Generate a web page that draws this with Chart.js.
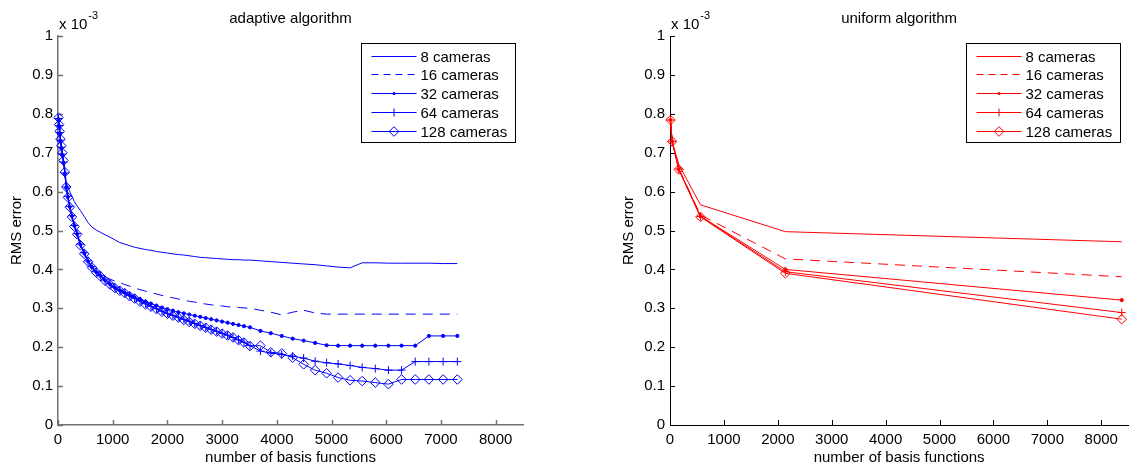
<!DOCTYPE html>
<html><head><meta charset="utf-8">
<script src="https://cdn.jsdelivr.net/npm/chart.js@4.4.1/dist/chart.umd.min.js"></script>
<style>
html,body{margin:0;padding:0;background:#fff;}
#wrap{position:relative;width:1134px;height:467px;overflow:hidden;background:#fff;}
canvas{position:absolute;top:0;}
#c1{left:0;}
#c2{left:567px;}
</style></head><body>
<div id="wrap"><canvas id="c1" width="567" height="467"></canvas><canvas id="c2" width="567" height="467"></canvas></div>
<script>
const FONT = "'Liberation Sans', Arial, Helvetica, sans-serif";

// ---- data (y values in units of 1e-3) ----
const seriesLabels = ['8 cameras', '16 cameras', '32 cameras', '64 cameras', '128 cameras'];
const xTickValues = [0, 1000, 2000, 3000, 4000, 5000, 6000, 7000, 8000];
const xTickLabels = ['0', '1000', '2000', '3000', '4000', '5000', '6000', '7000', '8000'];
const yTickValues = [0, 0.1, 0.2, 0.3, 0.4, 0.5, 0.6, 0.7, 0.8, 0.9, 1];
const yTickLabels = ['0', '0.1', '0.2', '0.3', '0.4', '0.5', '0.6', '0.7', '0.8', '0.9', '1'];

const adaptiveX = [10, 20, 30, 45, 60, 80, 100, 125, 150, 180, 215, 255,
  300, 350, 410, 480,
  550, 620, 700, 780, 860, 950, 1040, 1130, 1220, 1310,
  1400, 1500, 1600, 1700, 1800, 1900, 2000, 2100, 2200, 2300, 2400, 2500, 2600, 2700, 2800, 2900, 3000, 3100, 3200, 3300, 3400,
  3510,
  3700, 3890, 4090, 4290, 4490, 4700, 4910, 5120, 5340, 5560, 5800, 6040, 6280, 6530, 6780, 7040, 7300];
const adaptive8 = [0.790, 0.773, 0.757, 0.738, 0.721, 0.703, 0.684, 0.656, 0.625, 0.612, 0.600, 0.588,
  0.574, 0.563, 0.551, 0.536,
  0.520, 0.509, 0.501, 0.495, 0.489, 0.483, 0.476, 0.469, 0.465, 0.461,
  0.457, 0.454, 0.451, 0.449, 0.446, 0.444, 0.442, 0.440, 0.438, 0.437, 0.435, 0.433, 0.431, 0.430, 0.429, 0.428, 0.427, 0.426, 0.425, 0.425, 0.424,
  0.424,
  0.422, 0.420, 0.418, 0.416, 0.414, 0.412, 0.409, 0.406, 0.404, 0.417, 0.417, 0.416, 0.416, 0.416, 0.416, 0.415, 0.415];
const adaptive16 = [0.787, 0.769, 0.751, 0.731, 0.713, 0.695, 0.675, 0.647, 0.611, 0.587, 0.561, 0.537,
  0.512, 0.492, 0.465, 0.443,
  0.422, 0.408, 0.396, 0.388, 0.381, 0.375, 0.370, 0.366, 0.361, 0.357,
  0.352, 0.348, 0.344, 0.340, 0.337, 0.333, 0.330, 0.327, 0.324, 0.321, 0.318, 0.316, 0.313, 0.311, 0.309, 0.307, 0.306, 0.304, 0.303, 0.302, 0.301,
  0.300,
  0.295, 0.290, 0.283, 0.290, 0.295, 0.288, 0.285, 0.285, 0.285, 0.285, 0.285, 0.285, 0.285, 0.285, 0.285, 0.285, 0.285];
const adaptive32 = [0.786, 0.768, 0.750, 0.730, 0.712, 0.694, 0.674, 0.646, 0.610, 0.586, 0.561, 0.537,
  0.512, 0.491, 0.464, 0.442,
  0.421, 0.406, 0.393, 0.383, 0.372, 0.362, 0.353, 0.346, 0.340, 0.334,
  0.328, 0.322, 0.317, 0.312, 0.307, 0.302, 0.298, 0.294, 0.290, 0.287, 0.284, 0.281, 0.278, 0.275, 0.272, 0.269, 0.266, 0.263, 0.260, 0.257, 0.254,
  0.251,
  0.242, 0.236, 0.229, 0.222, 0.217, 0.211, 0.205, 0.204, 0.204, 0.204, 0.204, 0.204, 0.204, 0.204, 0.229, 0.229, 0.229];
const adaptive64 = [0.788, 0.770, 0.752, 0.732, 0.714, 0.696, 0.676, 0.648, 0.612, 0.588, 0.562, 0.538,
  0.513, 0.492, 0.465, 0.443,
  0.422, 0.407, 0.394, 0.384, 0.373, 0.363, 0.354, 0.347, 0.340, 0.333,
  0.326, 0.319, 0.312, 0.305, 0.299, 0.293, 0.287, 0.282, 0.277, 0.272, 0.267, 0.261, 0.256, 0.251, 0.246, 0.241, 0.236, 0.231, 0.225, 0.219, 0.213,
  0.204,
  0.190, 0.185, 0.181, 0.177, 0.172, 0.164, 0.160, 0.157, 0.153, 0.148, 0.145, 0.141, 0.141, 0.163, 0.163, 0.163, 0.163];
const adaptive128 = [0.790, 0.772, 0.755, 0.735, 0.718, 0.700, 0.680, 0.650, 0.612, 0.585, 0.560, 0.535,
  0.510, 0.490, 0.462, 0.440,
  0.420, 0.405, 0.392, 0.382, 0.371, 0.361, 0.352, 0.345, 0.339, 0.331,
  0.325, 0.317, 0.310, 0.304, 0.298, 0.291, 0.286, 0.281, 0.276, 0.270, 0.265, 0.260, 0.255, 0.250, 0.245, 0.240, 0.235, 0.230, 0.225, 0.218, 0.212,
  0.203,
  0.204, 0.187, 0.184, 0.173, 0.156, 0.141, 0.133, 0.122, 0.115, 0.113, 0.109, 0.105, 0.117, 0.117, 0.117, 0.117, 0.117];

const uniformX = [9, 40, 162, 565, 2140, 8380];
const uniform8 = [0.784, 0.729, 0.670, 0.566, 0.497, 0.471];
const uniform16 = [0.784, 0.729, 0.660, 0.540, 0.427, 0.381];
const uniform32 = [0.784, 0.729, 0.658, 0.537, 0.400, 0.321];
const uniform64 = [0.784, 0.729, 0.658, 0.536, 0.394, 0.289];
const uniform128 = [0.784, 0.729, 0.657, 0.535, 0.390, 0.272];

// ---- styling ----
function makeSets(xs, ys, color) {
  const styles = [
    { pointRadius: 0 },
    { pointRadius: 0, borderDash: [10, 7], legendDash: [7, 5] },
    { pointStyle: 'circle', pointRadius: 1.6, pointBackgroundColor: color },
    { pointStyle: 'cross', pointRadius: 4 },
    { pointStyle: 'rectRot', pointRadius: 4.8, pointBackgroundColor: 'rgba(0,0,0,0)' }
  ];
  return ys.map((arr, i) => Object.assign({
    label: seriesLabels[i],
    data: arr.map((v, j) => ({ x: xs[j], y: v })),
    borderColor: color,
    pointBorderColor: color,
    borderWidth: 1,
    pointBorderWidth: 1,
    pointHoverRadius: 0,
    tension: 0,
    fill: false,
    clip: false,
    order: ys.length - 1 - i
  }, styles[i]));
}

function drawMarker(ctx, style, r, x, y, color) {
  if (!r) return;
  ctx.save();
  ctx.strokeStyle = color; ctx.fillStyle = color; ctx.lineWidth = 1;
  ctx.beginPath();
  if (style === 'circle') { ctx.arc(x, y, r, 0, Math.PI * 2); ctx.fill(); }
  else if (style === 'cross') { ctx.moveTo(x, y - r); ctx.lineTo(x, y + r); ctx.moveTo(x - r, y); ctx.lineTo(x + r, y); ctx.stroke(); }
  else if (style === 'rectRot') { ctx.moveTo(x - r, y); ctx.lineTo(x, y - r); ctx.lineTo(x + r, y); ctx.lineTo(x, y + r); ctx.closePath(); ctx.stroke(); }
  ctx.restore();
}

const inwardTicks = {
  id: 'inwardTicks',
  beforeDatasetsDraw(chart, args, opts) {
    const { ctx, chartArea: a, scales: { x, y } } = chart;
    ctx.save();
    ctx.strokeStyle = opts.color; ctx.lineWidth = opts.width;
    ctx.beginPath();
    x.ticks.forEach(t => { const px = Math.round(x.getPixelForValue(t.value)) + 0.5; ctx.moveTo(px, a.bottom); ctx.lineTo(px, a.bottom - 5); });
    y.ticks.forEach(t => { const py = Math.round(y.getPixelForValue(t.value)) + 0.5; ctx.moveTo(a.left, py); ctx.lineTo(a.left + 5, py); });
    ctx.stroke();
    ctx.restore();
  }
};

const expLabel = {
  id: 'expLabel',
  afterDraw(chart) {
    const { ctx, chartArea: a } = chart;
    ctx.save();
    ctx.fillStyle = '#000'; ctx.textAlign = 'left'; ctx.textBaseline = 'alphabetic';
    ctx.font = '15px ' + FONT;
    ctx.fillText('x 10', a.left + 1, a.top - 7);
    const w = ctx.measureText('x 10').width;
    ctx.font = '11px ' + FONT;
    ctx.fillText('-3', a.left + 2 + w, a.top - 17);
    ctx.restore();
  }
};

const boxLegend = {
  id: 'boxLegend',
  afterDraw(chart, args, opts) {
    const { ctx, chartArea: a } = chart;
    const w = 154, h = 99;
    const left = Math.round(a.right - opts.offsetRight - w) + 0.5;
    const top = Math.round(a.top + 7) + 0.5;
    ctx.save();
    ctx.fillStyle = '#fff'; ctx.fillRect(left, top, w, h);
    ctx.strokeStyle = '#000'; ctx.lineWidth = 1; ctx.strokeRect(left, top, w, h);
    chart.data.datasets.forEach((ds, i) => {
      const y = Math.round(top + 12 + i * 18.8) + 0.5;
      ctx.strokeStyle = ds.borderColor; ctx.lineWidth = 1;
      ctx.setLineDash(ds.legendDash || []);
      ctx.beginPath(); ctx.moveTo(left + 10, y); ctx.lineTo(left + 55, y); ctx.stroke();
      ctx.setLineDash([]);
      drawMarker(ctx, ds.pointStyle, ds.pointRadius, left + 32.5, y, ds.borderColor);
      ctx.fillStyle = '#000'; ctx.font = '15px ' + FONT; ctx.textBaseline = 'middle'; ctx.textAlign = 'left';
      ctx.fillText(ds.label, left + 59, y + 1);
    });
    ctx.restore();
  }
};

function makeChart(canvasId, title, datasets, cfg) {
  const font = { family: FONT, size: 15, weight: 'normal' };
  return new Chart(document.getElementById(canvasId), {
    type: 'line',
    data: { datasets },
    options: {
      responsive: false,
      animation: false,
      events: [],
      layout: { padding: { left: 0, right: cfg.padRight, top: 0, bottom: 0 } },
      plugins: {
        legend: { display: false },
        tooltip: { enabled: false },
        title: { display: true, text: title, fullSize: false, color: '#000', font, padding: { top: 10, bottom: 8 } },
        inwardTicks: { color: cfg.axisColor, width: cfg.axisWidth },
        boxLegend: { offsetRight: 8.5 }
      },
      scales: {
        x: {
          type: 'linear', min: 0, max: 8500,
          afterFit: s => { s.height = 42; },
          afterBuildTicks: s => { s.ticks = xTickValues.map(v => ({ value: v })); },
          ticks: { color: '#000', font, padding: 6, maxRotation: 0, autoSkip: false,
            callback: (v, i) => xTickLabels[i] },
          grid: { display: false, drawTicks: false },
          border: { display: true, color: cfg.axisColor, width: cfg.axisWidth },
          title: { display: true, text: 'number of basis functions', color: '#000', font, padding: { top: 0, bottom: 0 } }
        },
        y: {
          type: 'linear', min: 0, max: 1,
          afterFit: s => { s.width = cfg.yWidth; },
          afterBuildTicks: s => { s.ticks = yTickValues.map(v => ({ value: v })); },
          ticks: { color: '#000', font, padding: 5, callback: (v, i) => yTickLabels[i] },
          grid: { display: false, drawTicks: false },
          border: { display: true, color: cfg.axisColor, width: cfg.axisWidth },
          title: { display: true, text: 'RMS error', color: '#000', font, padding: { top: cfg.yTitlePad, bottom: 0 } }
        }
      }
    },
    plugins: [inwardTicks, expLabel, boxLegend]
  });
}

makeChart('c1', 'adaptive algorithm',
  makeSets(adaptiveX, [adaptive8, adaptive16, adaptive32, adaptive64, adaptive128], '#0000ff'),
  { padRight: 44, yWidth: 58, yTitlePad: 8, axisColor: '#707070', axisWidth: 1.5 });

makeChart('c2', 'uniform algorithm',
  makeSets(uniformX, [uniform8, uniform16, uniform32, uniform64, uniform128], '#ff0000'),
  { padRight: 0, yWidth: 103, yTitlePad: 53, axisColor: '#000000', axisWidth: 1 });
</script>
</body></html>
